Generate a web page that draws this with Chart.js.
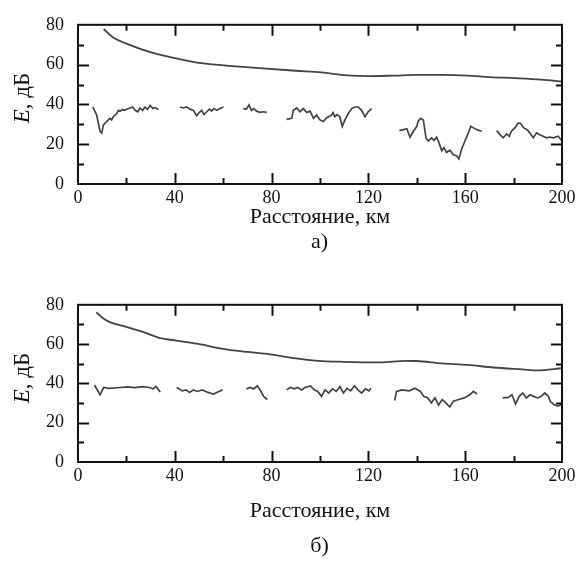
<!DOCTYPE html>
<html>
<head>
<meta charset="utf-8">
<script src="https://cdn.jsdelivr.net/npm/chart.js@4"></script>
<style>
  body { margin: 0; background: #fff; width: 579px; height: 565px; position: relative; overflow: hidden; }
  .box { position: absolute; left: 0; width: 579px; }
  .cap { position: absolute; width: 100%; text-align: center; font-family: "Liberation Serif", serif; font-size: 22px; color: #111; }
</style>
</head>
<body>
<div class="box" style="top:0;height:282px"><canvas id="chartA" width="579" height="282"></canvas></div>
<div class="cap" style="left:30px;width:579px;top:228px">а)</div>
<div class="box" style="top:280px;height:285px"><canvas id="chartB" width="579" height="285"></canvas></div>
<div class="cap" style="left:30px;width:579px;top:532px">б)</div>
<script>
// axis ticks
const xTickValues = [0, 40, 80, 120, 160, 200];
const yTickValues = [0, 20, 40, 60, 80];

// chart а) : smooth upper curve
const aUpperKm = [10.6, 14.4, 21.9, 29.5, 40.1, 49.2, 60.2, 74.9, 90, 100.6, 111.2, 120.3, 130.9, 140, 150.5, 161, 170.2, 180.8, 191.4, 200];
const aUpperE  = [77.9, 73.8, 69.7, 66.4, 63.2, 61.0, 59.6, 58.2, 56.9, 56.1, 54.6, 54.2, 54.5, 54.8, 54.8, 54.5, 53.7, 53.2, 52.5, 51.5];

// chart а) : measured curve, gaps as null
const aLowerKm = [
  6.1, 7.7, 9.1, 9.8, 10.5, 11.8, 13.2, 13.9, 14.6, 16, 16.7, 17.4, 18.4, 19,
  22.6, 23.6, 24.7, 25.6, 26.7, 27.7, 28.7, 29.8, 30.9, 31.8, 33.2, 33.3,
  42.2, 43.5, 44.9, 46.3, 47.7, 49.0, 50.1, 51.1, 52.1, 53.2, 54.3, 55.2, 56.2, 57.3, 58.7, 60.1, 60.2,
  68.3, 69.6, 70.7, 71.6, 72.6, 73.8, 75.2, 76.6, 78.0, 78.1,
  86.2, 88.3, 89, 90.4, 91.7, 93.1, 94.5, 95.9, 97.3, 98.6, 100, 101.4, 102.8, 104.7, 105.4, 106.1, 107, 108.2, 109.2, 110.3, 111.7, 113.1, 114.5, 115.8, 117.2, 118.6, 119.9, 121.3, 121.4,
  132.8, 134.5, 135.9, 137.2, 138.6, 140, 140.6, 141.6, 142.7, 143.8, 144.7, 146.1, 147.1, 148.2, 149.3, 150.3, 151.2, 152.3, 153.7, 155.1, 156.4, 157.4, 158.5, 159.9, 161.3, 162.3, 163.4, 164.8, 166.8, 166.9,
  173, 174.4, 175.7, 177.1, 178.2, 179.1, 180.5, 181.9, 182.9, 184.2, 185.6, 186.7, 188.1, 189.5, 190.8, 192.2, 193.6, 195, 196.4, 198.4, 199.8
];
const aLowerE = [
  38.7, 34.7, 26.5, 25.6, 29.7, 31.4, 33, 32.2, 33.8, 35.4, 37, 36.6, 37.4, 37.0,
  38.7, 37.0, 36.3, 38.2, 37.0, 38.7, 37.5, 39.5, 37.9, 38.4, 37.4, null,
  38.7, 38.2, 38.7, 37.6, 37.0, 34.3, 35.9, 37.0, 34.9, 36.3, 37.6, 36.6, 37.9, 37.0, 37.9, 38.7, null,
  37.9, 37.6, 39.8, 37.0, 37.9, 36.6, 36.0, 36.3, 36.0, null,
  32.5, 33, 37.1, 38.2, 36.3, 37.9, 35.9, 36.6, 33, 34.6, 32.2, 31.4, 33.3, 34.6, 35.9, 33.8, 34.9, 33.8, 28.9, 32.2, 35.4, 37.9, 38.7, 38.7, 37, 33.8, 36.3, 37.9, null,
  26.8, 27.3, 27.8, 23.5, 26.5, 29, 31.7, 33, 32.2, 23.2, 21.6, 23.2, 21.9, 23.5, 20.3, 16.7, 18.3, 15.8, 17, 14.7, 14.2, 12.6, 17.5, 21.6, 25.7, 29, 28.2, 27.3, 26.5, null,
  26.8, 24.8, 23.2, 25.2, 24, 26.5, 28.2, 30.7, 30.4, 28.2, 27.3, 25.7, 23.2, 25.7, 24.8, 24, 23.2, 23.5, 23.2, 24, 21.9
];

// chart б) : smooth upper curve
const bUpperKm = [7.6, 9.8, 12.9, 18.9, 26.5, 34, 40.1, 49.2, 59.8, 70.3, 79.4, 90, 99.1, 109.7, 124.8, 135.4, 139.9, 150.5, 161.1, 171.7, 183.8, 189.9, 200];
const bUpperE  = [76.2, 73.7, 71.3, 69.1, 66.3, 63, 61.9, 60.2, 57.6, 56, 54.8, 52.7, 51.5, 51, 50.7, 51.5, 51.4, 50.2, 49.4, 48.1, 47.1, 46.6, 47.7];

// chart б) : measured curve, gaps as null
const bLowerKm = [
  6.8, 9.1, 10.6, 12.9, 17.4, 20.4, 23.4, 26.5, 29.5, 31, 32.2, 33.3, 34, 34.1,
  40.8, 43.1, 44.6, 46.1, 47.7, 49.2, 51.4, 53.7, 56, 58.2, 59.8, 59.9,
  69.6, 71.1, 72.6, 74.1, 75.6, 76.7, 78.2, 78.3,
  86.2, 87.7, 89.3, 90.8, 92.3, 93.8, 96.1, 97.6, 99.1, 100.6, 102.1, 103.6, 105.1, 106.7, 108.2, 109.7, 111.2, 112.7, 114.2, 115.7, 117.2, 118.8, 120.3, 121, 121.1,
  130.9, 131.6, 133.9, 136.9, 139.2, 141.5, 142.9, 144.5, 146, 147.5, 149, 150.5, 152, 153.6, 155.1, 157.3, 159.6, 161.9, 163.4, 164.9, 165,
  175.5, 177.8, 179.3, 180.8, 182.3, 183.8, 185.3, 186.8, 188.3, 189.9, 191.4, 192.9, 194.4, 195.1, 196.6, 198.2, 200
];
const bLowerE = [
  39.2, 34.2, 37.9, 37.5, 37.9, 38.2, 37.9, 38.4, 37.9, 37.2, 38.4, 36.7, 35.6, null,
  37.9, 36.2, 36.7, 35.4, 36.7, 35.9, 36.7, 35.4, 34.6, 35.9, 36.7, null,
  37.2, 37.9, 37.2, 38.8, 35.9, 33.4, 31.8, null,
  36.7, 37.9, 37.2, 37.9, 36.7, 37.9, 38.7, 36.7, 35.9, 33.4, 36.7, 35.1, 37.2, 35.9, 38.4, 35.1, 37.5, 36.2, 38.8, 36.7, 35.1, 37.2, 36.2, 37.5, null,
  31.3, 35.9, 36.7, 36.2, 37.5, 35.9, 33.4, 32.6, 30.1, 32.6, 29, 31.8, 30.1, 28, 30.9, 31.8, 32.6, 34.2, 35.9, 34.6, null,
  32.6, 32.9, 34.2, 29.6, 33.4, 35.1, 32.6, 34.2, 33.4, 32.6, 33.4, 35.1, 33.4, 30.9, 29.3, 28.5, 29.3
];

const serif = '"Liberation Serif", "Times New Roman", serif';
const ink = '#111';
const lineInk = '#444';

function toPoints(xs, ys) {
  return xs.map((x, i) => ({ x: x, y: ys[i] }));
}

// frame with inward tick marks on all four sides
const frameTicks = {
  id: 'frameTicks',
  afterDraw(chart) {
    const { ctx, chartArea: a, scales: { x, y } } = chart;
    ctx.save();
    ctx.strokeStyle = ink;
    ctx.lineWidth = 2;
    ctx.strokeRect(a.left, a.top, a.right - a.left, a.bottom - a.top);
    ctx.beginPath();
    for (let v = 20; v < 200; v += 20) {
      const px = Math.round(x.getPixelForValue(v)) + 0.5;
      const len = v % 40 === 0 ? 11 : 6;
      ctx.moveTo(px, a.bottom); ctx.lineTo(px, a.bottom - len);
      ctx.moveTo(px, a.top); ctx.lineTo(px, a.top + len);
    }
    for (let v = 10; v < 80; v += 10) {
      const py = Math.round(y.getPixelForValue(v)) + 0.5;
      const len = v % 20 === 0 ? 11 : 6;
      ctx.moveTo(a.left, py); ctx.lineTo(a.left + len, py);
      ctx.moveTo(a.right, py); ctx.lineTo(a.right - len, py);
    }
    ctx.stroke();
    ctx.restore();
  }
};

// rotated y title with italic E
const yTitle = {
  id: 'yTitle',
  afterDraw(chart) {
    const { ctx } = chart;
    ctx.save();
    ctx.translate(23, 98);
    ctx.rotate(-Math.PI / 2);
    ctx.fillStyle = ink;
    ctx.textBaseline = 'middle';
    const italic = 'italic 23px ' + serif;
    const normal = '23px ' + serif;
    ctx.font = italic;
    const w1 = ctx.measureText('E').width;
    ctx.font = normal;
    const w2 = ctx.measureText(', дБ').width;
    let start = -(w1 + w2) / 2;
    ctx.font = italic;
    ctx.fillText('E', start, 0);
    ctx.font = normal;
    ctx.fillText(', дБ', start + w1, 0);
    ctx.restore();
  }
};

function makeChart(id, upper, lower, padTop, axisHeight, titlePad) {
  return new Chart(document.getElementById(id), {
    type: 'line',
    data: {
      datasets: [{
        data: upper,
        borderColor: lineInk,
        borderWidth: 1.8,
        pointRadius: 0,
        tension: 0.35,
        cubicInterpolationMode: 'monotone'
      }, {
        data: lower,
        borderColor: lineInk,
        borderWidth: 1.7,
        pointRadius: 0,
        tension: 0,
        spanGaps: false
      }]
    },
    options: {
      responsive: false,
      animation: false,
      events: [],
      layout: { padding: { top: padTop, right: 17, left: 0, bottom: 0 } },
      plugins: { legend: { display: false }, tooltip: { enabled: false } },
      scales: {
        x: {
          type: 'linear',
          min: 0,
          max: 200,
          grid: { display: false, drawTicks: false },
          border: { display: false },
          afterBuildTicks: s => { s.ticks = xTickValues.map(v => ({ value: v })); },
          afterFit: s => { s.height = axisHeight; },
          ticks: {
            color: ink,
            padding: 3,
            maxRotation: 0,
            font: { family: serif, size: 18 }
          },
          title: {
            display: true,
            text: 'Расстояние, км',
            color: ink,
            padding: { top: 0, bottom: titlePad },
            font: { family: serif, size: 22 }
          }
        },
        y: {
          min: 0,
          max: 80,
          grid: { display: false, drawTicks: false },
          border: { display: false },
          afterBuildTicks: s => { s.ticks = yTickValues.map(v => ({ value: v })); },
          afterFit: s => { s.width = 78; },
          ticks: {
            color: ink,
            padding: 14,
            font: { family: serif, size: 18 }
          }
        }
      }
    },
    plugins: [frameTicks, yTitle]
  });
}

makeChart('chartA', toPoints(aUpperKm, aUpperE), toPoints(aLowerKm, aLowerE), 21, 98, 52);
makeChart('chartB', toPoints(bUpperKm, bUpperE), toPoints(bLowerKm, bLowerE), 20, 103, 41);
</script>
</body>
</html>
